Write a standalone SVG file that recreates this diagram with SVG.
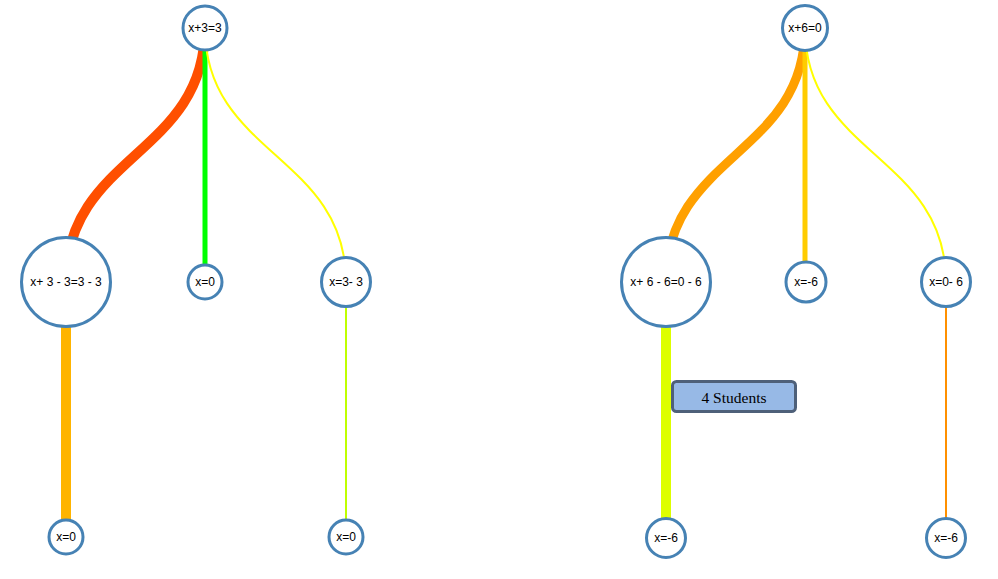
<svg xmlns="http://www.w3.org/2000/svg" width="998" height="579" viewBox="0 0 998 579">
<style>
.link{fill:none}
.node circle{fill:#fff;stroke:#4682b4;stroke-width:3}
.node text{font-family:"Liberation Sans",Arial,sans-serif;font-size:12px;fill:#000;text-anchor:middle;dominant-baseline:central}
.label rect{fill:#97b9e6;stroke:#4e6079;stroke-width:3}
.label text{font-family:"Liberation Serif","Times New Roman",serif;font-size:15.5px;fill:#000;text-anchor:middle;dominant-baseline:central}
</style>
<rect width="998" height="579" fill="#fff"/>
<g id="connectors">
<path class="link" d="M205,28 C205,155 66,155 66,282" stroke="#ff4f00" stroke-width="10"/>
<path class="link" d="M205,28 L205,282" stroke="#00ff00" stroke-width="5"/>
<path class="link" d="M205,28 C205,155 346,155 346,282" stroke="#ffff00" stroke-width="2"/>
<path class="link" d="M66,282 L66,537" stroke="#ffb400" stroke-width="10"/>
<path class="link" d="M346,282 L346,537" stroke="#bfff00" stroke-width="2"/>
<path class="link" d="M805,28 C805,155 666,155 666,282" stroke="#ffa000" stroke-width="9"/>
<path class="link" d="M805,28 L805,282" stroke="#ffcc00" stroke-width="5"/>
<path class="link" d="M805,28 C805,155 946,155 946,282" stroke="#ffff00" stroke-width="2"/>
<path class="link" d="M666,282 L666,537" stroke="#ddff00" stroke-width="10"/>
<path class="link" d="M946,282 L946,537" stroke="#ff9000" stroke-width="2"/>
</g>
<g id="n1" class="node"><circle cx="205" cy="28" r="22"/><text x="205" y="28">x+3=3</text></g>
<g id="n2" class="node"><circle cx="66" cy="282" r="44.5"/><text x="66" y="282">x+ 3 - 3=3 - 3</text></g>
<g id="n3" class="node"><circle cx="205" cy="282" r="17"/><text x="205" y="282">x=0</text></g>
<g id="n4" class="node"><circle cx="346" cy="282" r="24.5"/><text x="346" y="282">x=3- 3</text></g>
<g id="n5" class="node"><circle cx="66" cy="537" r="17"/><text x="66" y="537">x=0</text></g>
<g id="n6" class="node"><circle cx="346" cy="537" r="17"/><text x="346" y="537">x=0</text></g>
<g id="n7" class="node"><circle cx="805" cy="28" r="22.5"/><text x="805" y="28">x+6=0</text></g>
<g id="n8" class="node"><circle cx="666" cy="282" r="44.5"/><text x="666" y="282">x+ 6 - 6=0 - 6</text></g>
<g id="n9" class="node"><circle cx="806" cy="282" r="20"/><text x="806" y="282">x=-6</text></g>
<g id="n10" class="node"><circle cx="946" cy="282" r="24.5"/><text x="946" y="282">x=0- 6</text></g>
<g id="n11" class="node"><circle cx="666" cy="538" r="19.5"/><text x="666" y="538">x=-6</text></g>
<g id="n12" class="node"><circle cx="946" cy="538" r="19.5"/><text x="946" y="538">x=-6</text></g>
<g id="label1" class="label"><rect x="672.5" y="381.5" width="123" height="30" rx="4"/><text x="734" y="397">4 Students</text></g>
</svg>
